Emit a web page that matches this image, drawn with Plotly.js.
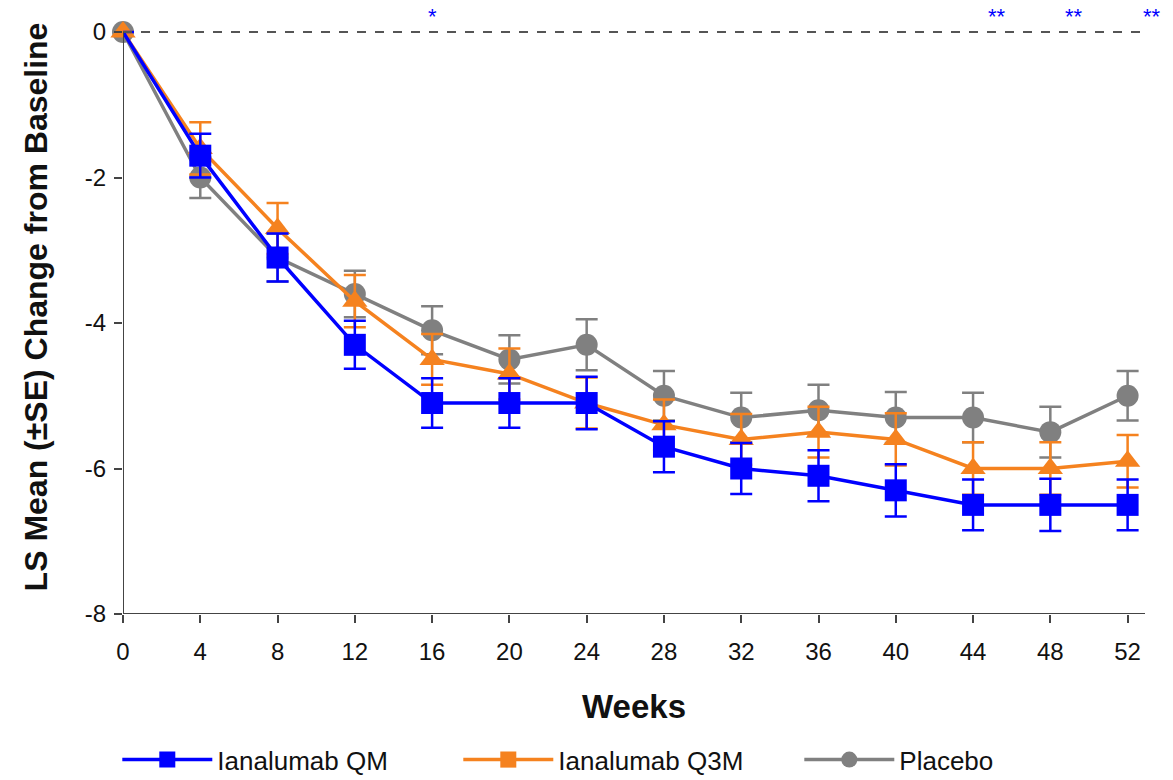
<!DOCTYPE html>
<html>
<head>
<meta charset="utf-8">
<script src="https://cdn.plot.ly/plotly-3.0.1.min.js"></script>
<style>html,body{margin:0;padding:0;background:#fff;}#chart{width:1173px;height:780px;}</style>
</head>
<body>
<div id="chart"></div>
<script>
var weeks = [0, 4, 8, 12, 16, 20, 24, 28, 32, 36, 40, 44, 48, 52];
var qmMean   = [0, -1.7, -3.1, -4.3, -5.1, -5.1, -5.1, -5.7, -6.0, -6.1, -6.3, -6.5, -6.5, -6.5];
var qmSE     = [0, 0.30, 0.33, 0.33, 0.34, 0.34, 0.36, 0.35, 0.35, 0.35, 0.36, 0.35, 0.36, 0.35];
var q3mMean  = [0, -1.6, -2.7, -3.7, -4.5, -4.7, -5.1, -5.4, -5.6, -5.5, -5.6, -6.0, -6.0, -5.9];
var q3mSE    = [0, 0.36, 0.35, 0.36, 0.35, 0.35, 0.35, 0.35, 0.35, 0.35, 0.36, 0.36, 0.36, 0.36];
var pboMean  = [0, -2.0, -3.1, -3.6, -4.1, -4.5, -4.3, -5.0, -5.3, -5.2, -5.3, -5.3, -5.5, -5.0];
var pboSE    = [0, 0.28, 0.33, 0.32, 0.33, 0.33, 0.35, 0.34, 0.34, 0.35, 0.35, 0.34, 0.35, 0.34];
var seriesNames = ['Ianalumab QM', 'Ianalumab Q3M', 'Placebo'];
var sigWeeks = [16, 44, 48, 52];
var sigLabels = ['*', '**', '**', '**'];
var yTicks = [-8, -6, -4, -2, 0];
var xTicks = weeks;

var cBlue = '#0000FF', cOrange = '#F5821F', cGray = '#808080';
var FONT = 'Liberation Sans, Arial, sans-serif';

function series(name, y, se, color, symbol, size, hideBaseline) {
  return {
    x: weeks, y: y, name: name, type: 'scatter', mode: 'lines+markers',
    showlegend: false, cliponaxis: false,
    line: {color: color, width: 3.5},
    marker: {color: color, symbol: symbol, size: size,
             opacity: hideBaseline ? weeks.map(function (w) { return w === 0 ? 0 : 1; }) : 1},
    error_y: {type: 'data', array: se, visible: true, color: color, thickness: 2.5, width: 11}
  };
}
function legendItem(name, color, symbol) {
  return {
    x: [null], y: [null], name: name, type: 'scatter', mode: 'lines+markers',
    line: {color: color, width: 3.5}, marker: {color: color, symbol: symbol, size: 16}
  };
}

var data = [
  series(seriesNames[2], pboMean, pboSE, cGray, 'circle', 22, false),
  series(seriesNames[0], qmMean, qmSE, cBlue, 'square', 22, true),
  series(seriesNames[1], q3mMean, q3mSE, cOrange, 'triangle-up', 22, false),
  legendItem(seriesNames[0], cBlue, 'square'),
  legendItem(seriesNames[1], cOrange, 'square'),
  legendItem(seriesNames[2], cGray, 'circle')
];
// draw QM on top except at baseline: reorder so QM drawn last
data = [data[0], data[2], data[1], data[3], data[4], data[5]];

var annotations = sigWeeks.map(function (w, i) {
  return {x: w, y: 0.44, xref: 'x', yref: 'y', text: sigLabels[i], showarrow: false,
          yanchor: 'top', yshift: -2, xshift: (sigLabels[i].length > 1 ? 24 : 0),
          font: {color: cBlue, size: 22, family: FONT}};
});

var layout = {
  width: 1173, height: 780,
  margin: {l: 123, r: 28, t: 0, b: 166, autoexpand: false},
  paper_bgcolor: '#fff', plot_bgcolor: '#fff',
  font: {family: FONT, color: '#111'},
  xaxis: {
    range: [0, 52.9], tickvals: xTicks, ticktext: xTicks.map(String),
    showgrid: false, zeroline: false, showline: false,
    ticks: 'outside', ticklen: 8, tickwidth: 2, tickcolor: '#444',
    ticklabelstandoff: 8,
    tickfont: {size: 24, color: '#111'},
    title: {text: '<b>Weeks</b>', font: {size: 33, color: '#111'}, standoff: 31}
  },
  yaxis: {
    range: [-8, 0.44], tickvals: yTicks, ticktext: yTicks.map(String),
    showgrid: false, zeroline: false, showline: false,
    ticks: 'outside', ticklen: 8, tickwidth: 2, tickcolor: '#444',
    ticklabelstandoff: 3,
    tickfont: {size: 24, color: '#111'},
    title: {text: '<b>LS Mean (\u00b1SE) Change from Baseline</b>', font: {size: 32, color: '#111'}, standoff: 27}
  },
  shapes: [
    {type: 'line', xref: 'x', yref: 'y', x0: 0, x1: 52.9, y0: 0, y1: 0, line: {color: '#555', width: 2, dash: 'dash'}},
    {type: 'line', xref: 'x', yref: 'y', x0: 0, x1: 0, y0: -8, y1: 0, line: {color: '#444', width: 2}},
    {type: 'line', xref: 'x', yref: 'y', x0: -0.15, x1: 52.9, y0: -8, y1: -8, line: {color: '#444', width: 2}}
  ],
  annotations: annotations,
  legend: {
    orientation: 'h', xref: 'container', yref: 'container',
    x: 0.1, xanchor: 'left', y: 0.026, yanchor: 'middle',
    font: {size: 26, color: '#111'}, entrywidth: 236, entrywidthmode: 'pixels',
    itemwidth: 90, bgcolor: 'rgba(0,0,0,0)'
  }
};

Plotly.newPlot('chart', data, layout, {displayModeBar: false, staticPlot: true});
</script>
</body>
</html>
